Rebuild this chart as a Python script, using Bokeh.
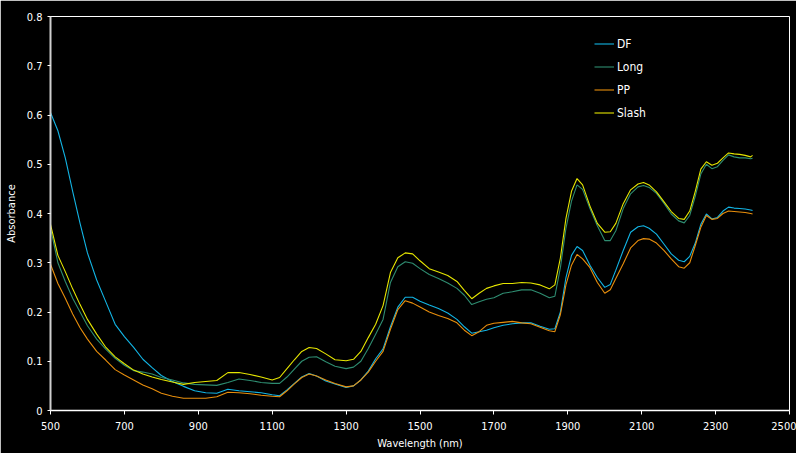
from bokeh.plotting import figure
from bokeh.models import FixedTicker, CustomJSTickFormatter, Legend, LegendItem, Range1d
from bokeh.embed import file_html
from bokeh.resources import INLINE

wavelength = [500, 520, 540, 560, 580, 600, 625, 650, 675, 700, 725, 750, 775, 800, 830, 860, 890, 920, 950, 980,
              1010, 1040, 1070, 1100, 1120, 1140, 1160, 1180, 1200, 1220, 1245, 1270, 1300, 1320, 1340, 1360, 1380,
              1400, 1420, 1440, 1460, 1480, 1500, 1525, 1550, 1575, 1600, 1620, 1640, 1660, 1680, 1700, 1725, 1750,
              1775, 1800, 1825, 1850, 1865, 1880, 1895, 1910, 1925, 1940, 1960, 1980, 2000, 2015, 2030, 2050, 2070,
              2090, 2105, 2120, 2140, 2160, 2180, 2200, 2215, 2230, 2245, 2260, 2275, 2290, 2305, 2320, 2335, 2350,
              2365, 2380, 2395, 2400]

df = [0.605, 0.568, 0.513, 0.445, 0.38, 0.32, 0.265, 0.22, 0.175, 0.15, 0.128, 0.104, 0.087, 0.071, 0.059, 0.049,
      0.040, 0.036, 0.035, 0.043, 0.040, 0.038, 0.036, 0.032, 0.030, 0.042, 0.055, 0.068, 0.075, 0.070, 0.060,
      0.054, 0.047, 0.050, 0.062, 0.080, 0.105, 0.125, 0.170, 0.210, 0.230, 0.230, 0.222, 0.214, 0.207, 0.198,
      0.185, 0.170, 0.157, 0.160, 0.163, 0.168, 0.173, 0.176, 0.178, 0.178, 0.171, 0.165, 0.166, 0.20, 0.27,
      0.315, 0.333, 0.325, 0.295, 0.27, 0.25, 0.256, 0.285, 0.325, 0.362, 0.373, 0.375, 0.370, 0.358, 0.338,
      0.318, 0.305, 0.302, 0.313, 0.340, 0.378, 0.399, 0.389, 0.392, 0.405, 0.413, 0.411, 0.410, 0.409, 0.407,
      0.406]

long_ = [0.37, 0.30, 0.262, 0.228, 0.20, 0.172, 0.145, 0.124, 0.106, 0.092, 0.081, 0.078, 0.074, 0.067, 0.062,
         0.056, 0.053, 0.052, 0.051, 0.057, 0.064, 0.061, 0.057, 0.055, 0.055, 0.068, 0.084, 0.10, 0.108, 0.109,
         0.099, 0.09, 0.085, 0.088, 0.10, 0.126, 0.155, 0.185, 0.26, 0.292, 0.302, 0.299, 0.288, 0.276, 0.268,
         0.259, 0.248, 0.234, 0.215, 0.221, 0.226, 0.229, 0.238, 0.241, 0.245, 0.245, 0.238, 0.229, 0.232, 0.29,
         0.37, 0.425, 0.458, 0.449, 0.41, 0.375, 0.345, 0.345, 0.365, 0.41, 0.44, 0.454, 0.457, 0.453, 0.441,
         0.421, 0.399, 0.385, 0.381, 0.396, 0.435, 0.48, 0.5, 0.491, 0.495, 0.508, 0.519, 0.515, 0.513, 0.513,
         0.511, 0.512]

pp = [0.297, 0.258, 0.228, 0.196, 0.168, 0.145, 0.12, 0.102, 0.083, 0.072, 0.062, 0.052, 0.044, 0.035, 0.029,
      0.025, 0.025, 0.025, 0.028, 0.037, 0.036, 0.034, 0.031, 0.029, 0.028, 0.040, 0.054, 0.067, 0.074, 0.070,
      0.062, 0.055, 0.048, 0.050, 0.062, 0.078, 0.10, 0.12, 0.165, 0.205, 0.223, 0.218, 0.210, 0.200, 0.193,
      0.187, 0.178, 0.163, 0.152, 0.160, 0.173, 0.177, 0.179, 0.181, 0.178, 0.176, 0.169, 0.162, 0.160, 0.195,
      0.255, 0.295, 0.317, 0.308, 0.29, 0.26, 0.238, 0.245, 0.268, 0.298, 0.33, 0.345, 0.349, 0.348, 0.340,
      0.325, 0.308, 0.292, 0.289, 0.30, 0.335, 0.372, 0.396, 0.388, 0.39, 0.400, 0.405, 0.404, 0.403, 0.402,
      0.400, 0.399]

slash = [0.378, 0.315, 0.282, 0.247, 0.215, 0.185, 0.155, 0.128, 0.109, 0.095, 0.082, 0.074, 0.068, 0.063, 0.058,
         0.053, 0.057, 0.059, 0.061, 0.077, 0.077, 0.073, 0.068, 0.062, 0.067, 0.085, 0.103, 0.12, 0.128, 0.126,
         0.115, 0.103, 0.101, 0.104, 0.12, 0.148, 0.175, 0.213, 0.28, 0.31, 0.32, 0.318, 0.304, 0.288, 0.281,
         0.274, 0.262, 0.244, 0.227, 0.238, 0.248, 0.253, 0.258, 0.258, 0.26, 0.259, 0.255, 0.247, 0.255, 0.31,
         0.39, 0.445, 0.471, 0.458, 0.415, 0.38, 0.362, 0.363, 0.38, 0.42, 0.448, 0.46, 0.463, 0.458, 0.444,
         0.424, 0.404, 0.39, 0.388, 0.405, 0.445, 0.49, 0.505, 0.498, 0.502, 0.513, 0.523, 0.521, 0.52, 0.518,
         0.515, 0.518]

series_names = ["DF", "Long", "PP", "Slash"]
series_values = [df, long_, pp, slash]
series_colors = ["#12b4e4", "#2e8c70", "#e88e0c", "#e6e600"]

x_ticks = [500, 700, 900, 1100, 1300, 1500, 1700, 1900, 2100, 2300, 2500]
y_ticks = [0, 0.1, 0.2, 0.3, 0.4, 0.5, 0.6, 0.7, 0.8]

FONT = "'Liberation Sans Narrow', 'DejaVu Sans Condensed', 'Liberation Sans', sans-serif"

p = figure(width=796, height=453, output_backend="svg", toolbar_location=None,
           x_range=Range1d(500, 2500), y_range=Range1d(0, 0.8),
           background_fill_color="black", border_fill_color="black",
           min_border_left=50, min_border_right=7, min_border_top=16, min_border_bottom=43)
p.outline_line_color = "white"
p.outline_line_width = 1
p.grid.visible = False

items = []
for name, vals, col in zip(series_names, series_values, series_colors):
    r = p.line(wavelength, vals, line_color=col, line_width=1.1)
    items.append(LegendItem(label=name, renderers=[r]))

p.xaxis.ticker = FixedTicker(ticks=x_ticks)
p.yaxis.ticker = FixedTicker(ticks=y_ticks)
p.yaxis.formatter = CustomJSTickFormatter(code="return String(Math.round(tick*10)/10)")

for ax in (p.xaxis[0], p.yaxis[0]):
    ax.axis_line_color = "white"
    ax.axis_line_width = 1.5
    ax.major_tick_line_color = "white"
    ax.minor_tick_line_color = None
    ax.major_tick_in = 0
    ax.major_tick_out = 3
    ax.major_label_text_color = "white"
    ax.major_label_text_font = FONT
    ax.major_label_text_font_size = "11px"
    ax.axis_label_text_color = "white"
    ax.axis_label_text_font = FONT
    ax.axis_label_text_font_size = "11px"
    ax.axis_label_text_font_style = "normal"

p.yaxis.axis_line_color = "#cfcfcf"
p.yaxis.axis_line_width = 2
p.xaxis.axis_label = "Wavelength (nm)"
p.yaxis.axis_label = "Absorbance"
p.xaxis.major_tick_out = 4
p.xaxis.major_label_standoff = 7
p.xaxis.axis_label_standoff = 4
p.yaxis.major_label_standoff = 5
p.yaxis.axis_label_standoff = 6

legend = Legend(items=items, location=(544, 287), background_fill_alpha=0, border_line_color=None,
                label_text_color="white", label_text_font=FONT, label_text_font_size="12px",
                glyph_width=20, glyph_height=21, label_height=21, label_standoff=3, spacing=2,
                padding=0, margin=0)
p.add_layout(legend, "center")

open("out.html", "w").write(file_html(p, INLINE))
